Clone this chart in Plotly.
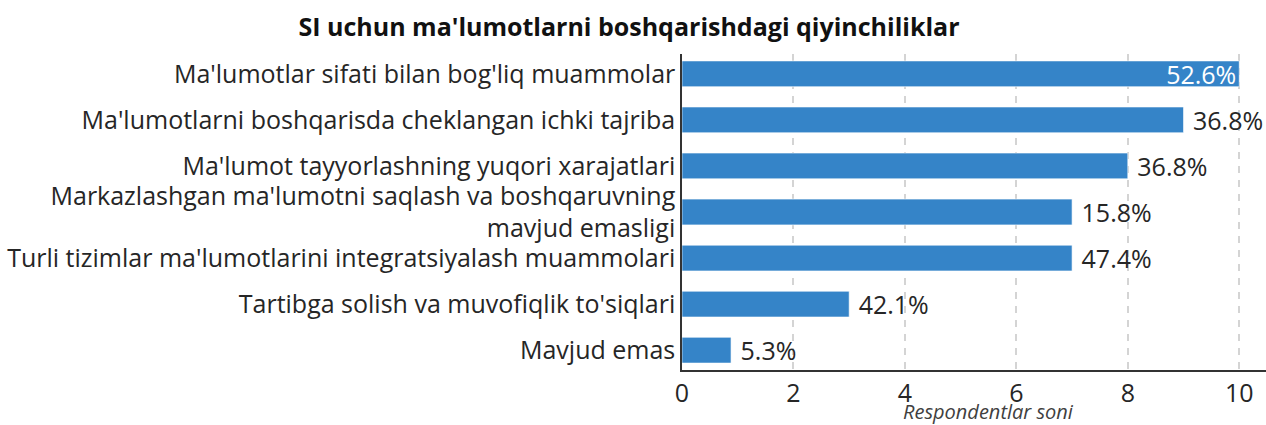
import plotly.graph_objects as go

categories = [
    "Ma'lumotlar sifati bilan bog'liq muammolar",
    "Ma'lumotlarni boshqarisda cheklangan ichki tajriba",
    "Ma'lumot tayyorlashning yuqori xarajatlari",
    "Markazlashgan ma'lumotni saqlash va boshqaruvning<br>mavjud emasligi",
    "Turli tizimlar ma'lumotlarini integratsiyalash muammolari",
    "Tartibga solish va muvofiqlik to'siqlari",
    "Mavjud emas",
]
values = [10, 9, 8, 7, 7, 3, 0.88]
labels = ["52.6%", "36.8%", "36.8%", "15.8%", "47.4%", "42.1%", "5.3%"]
text_positions = ["inside", "outside", "outside", "outside", "outside", "outside", "outside"]
x_ticks = [0, 2, 4, 6, 8, 10]
x_title = "Respondentlar soni"

FONT = "Open Sans"
TXT = "#262626"
W, H = 1266, 425

bar_text = [(" " + t) if p == "outside" else t for t, p in zip(labels, text_positions)]

fig = go.Figure(
    go.Bar(
        y=categories,
        x=values,
        orientation="h",
        text=bar_text,
        textposition=text_positions,
        insidetextanchor="end",
        insidetextfont=dict(color="white", size=25, family=FONT),
        outsidetextfont=dict(color=TXT, size=25, family=FONT),
        marker=dict(color="#3584C8", line=dict(color="rgba(255,255,255,0.6)", width=1)),
        width=0.56,
        cliponaxis=False,
        hoverinfo="skip",
    )
)

fig.update_layout(
    width=W,
    height=H,
    margin=dict(l=682, r=0, t=54, b=55),
    paper_bgcolor="white",
    plot_bgcolor="white",
    font=dict(family=FONT, size=24, color=TXT),
    uniformtext=dict(minsize=25, mode="show"),
    title=dict(
        text="<b>SI uchun ma'lumotlarni boshqarishdagi qiyinchiliklar</b>",
        x=629 / W,
        xanchor="center",
        y=1 - 27 / H,
        yanchor="middle",
        font=dict(size=25, family=FONT, color="#111111"),
    ),
    showlegend=False,
    annotations=[
        dict(
            text=f"<i>{x_title}</i>",
            xref="paper",
            yref="paper",
            x=(988 - 682) / (W - 682),
            y=-(411 - 370) / (370 - 54),
            xanchor="center",
            yanchor="middle",
            showarrow=False,
            font=dict(size=20, family=FONT, color="#404040"),
        )
    ],
)

fig.update_xaxes(
    range=[0, 10.48],
    tickvals=x_ticks,
    automargin=False,
    showgrid=True,
    gridcolor="#d4d4d4",
    griddash="7px,7px",
    gridwidth=2,
    zeroline=False,
    showline=True,
    linecolor="#333333",
    linewidth=1.5,
    ticks="",
    tickfont=dict(size=25, family=FONT, color=TXT),
)
fig.update_yaxes(
    range=[6.43, -0.43],
    automargin=False,
    showgrid=False,
    showline=True,
    linecolor="#333333",
    linewidth=1.5,
    ticks="",
    ticklabelstandoff=0,
    tickfont=dict(size=25, family=FONT, color=TXT),
)

fig.write_html(
    "out.html",
    config={"displayModeBar": False},
    post_script="document.body.style.margin='0';document.body.style.overflow='hidden';",
)
